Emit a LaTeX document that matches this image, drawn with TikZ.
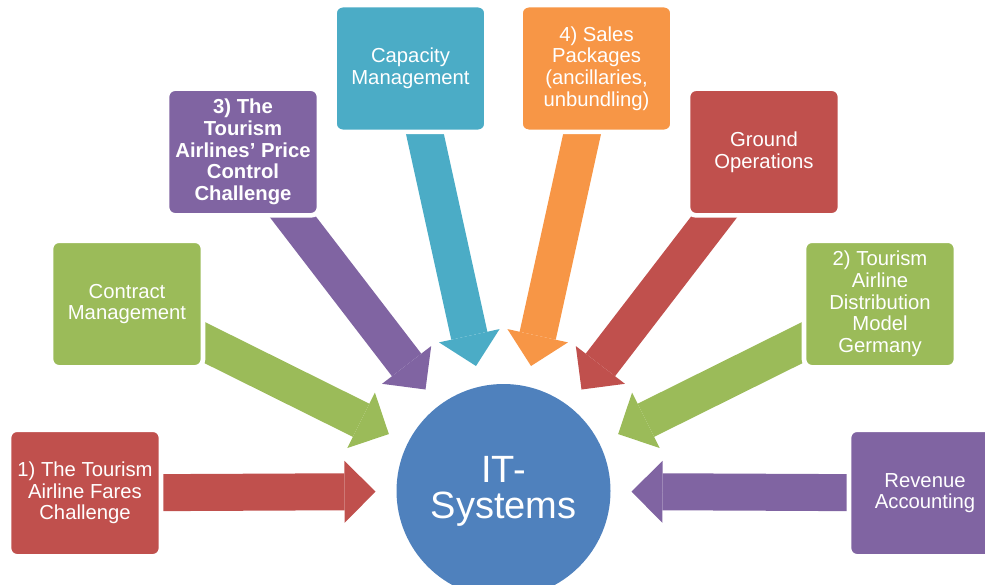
\documentclass[tikz,border=0pt]{standalone}
\usepackage{fontspec}
\setmainfont{Liberation Sans}
\definecolor{myRed}{RGB}{192, 80, 77}
\definecolor{myGreen}{RGB}{155, 187, 89}
\definecolor{myPurple}{RGB}{128, 100, 162}
\definecolor{myTeal}{RGB}{75, 172, 198}
\definecolor{myOrange}{RGB}{247, 150, 70}
\definecolor{myBlue}{RGB}{79, 129, 189}
\usetikzlibrary{arrows.meta,backgrounds}

\begin{document}
\begin{tikzpicture}[x=0.75pt, y=-0.75pt,
    every node/.style={font=\fontsize{15.2}{16.3}\selectfont, text=white, align=center},
    topic/.style={rectangle, rounded corners=6pt, draw=white, line width=3.5pt, minimum width=114pt, minimum height=95pt, inner sep=2pt},
    feed/.style={line width=27.75pt, shorten >=15.75pt, -{Triangle[width=46.5pt, length=23.25pt, line width=0pt]}}]
    \useasboundingbox (0,0) rectangle (985,585);
    \clip (0,0) rectangle (985,585);

    \node[circle, fill=myBlue, minimum size=160.5pt, inner sep=0pt, outer sep=0pt, font=\fontsize{28.5}{27}\selectfont] (it) at (503.5,491) {IT-\\Systems};

    \node[topic, fill=myRed] (fares) at (85,493) {1) The Tourism\\Airline Fares\\Challenge};
    \node[topic, fill=myGreen] (contract) at (127,304) {Contract\\Management};
    \node[topic, fill=myPurple, font=\fontsize{15.2}{16.3}\selectfont\bfseries] (pricing) at (243,152) {3) The\\Tourism\\Airlines’ Price\\Control\\Challenge};
    \node[topic, fill=myTeal] (capacity) at (410.5,68.5) {Capacity\\Management};
    \node[topic, fill=myOrange] (sales) at (596.5,68.5) {4) Sales\\Packages\\(ancillaries,\\unbundling)};
    \node[topic, fill=myRed] (ground) at (764,152) {Ground\\Operations};
    \node[topic, fill=myGreen] (distribution) at (880,304) {2) Tourism\\Airline\\Distribution\\Model\\Germany};
    \node[topic, fill=myPurple] (revenue) at (925,493) {Revenue\\Accounting};

    % arrows run from the box centres, the boxes hide their back ends
    \begin{scope}[on background layer]
        \draw[feed, myRed] (fares.center) -- (it);
        \draw[feed, myGreen] (contract.center) -- (it);
        \draw[feed, myPurple] (pricing.center) -- (it);
        \draw[feed, myTeal] (capacity.center) -- (it);
        \draw[feed, myOrange] (sales.center) -- (it);
        \draw[feed, myRed] (ground.center) -- (it);
        \draw[feed, myGreen] (distribution.center) -- (it);
        \draw[feed, myPurple] (revenue.center) -- (it);
    \end{scope}
\end{tikzpicture}
\end{document}
